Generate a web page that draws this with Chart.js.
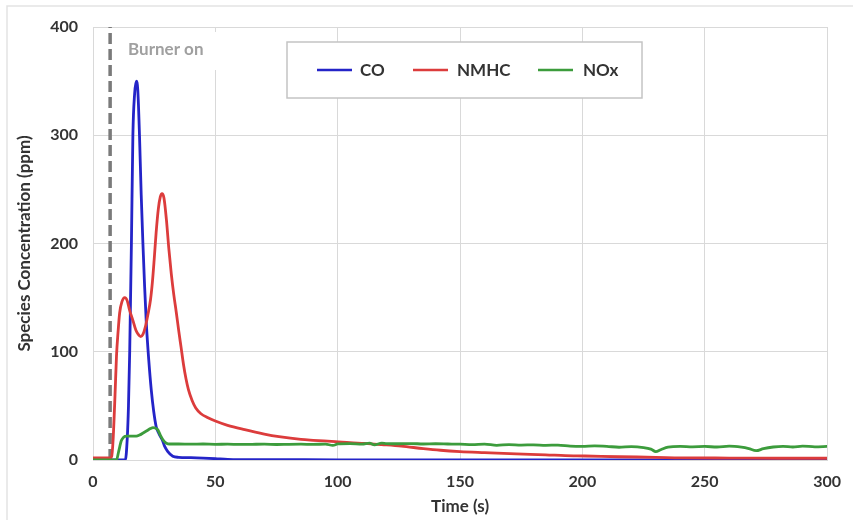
<!DOCTYPE html>
<html>
<head>
<meta charset="utf-8">
<script src="https://cdn.jsdelivr.net/npm/chart.js@4.4.1/dist/chart.umd.min.js"></script>
<style>
  html, body { margin: 0; padding: 0; background: #ffffff; }
  #wrap { width: 853px; height: 520px; }
</style>
</head>
<body>
<div id="wrap"><canvas id="speciesChart" width="853" height="520"></canvas></div>
<script>
// Emissions after burner ignition (ppm vs seconds)
const burnerOnTime = 7;

const coTime = [0, 13.2, 14, 14.5, 15, 15.7, 16.3, 17, 17.7, 18.3, 19, 19.7, 20.4, 21.1, 21.8, 22.8, 23.8, 24.8, 25.8, 27, 28.4, 29.2, 30.5, 32.6, 35, 40, 45, 50, 55, 60, 100, 150, 200, 250, 300];
const coValues = [0, 0, 20, 50, 100, 200, 300, 338, 350, 342, 300, 245, 200, 160, 126, 92, 65, 45, 31, 24, 18, 13, 8, 3.5, 2.5, 2.2, 1.8, 1.2, 0.5, 0.3, 0.2, 0.1, 0.1, 0.1, 0.1];

const nmhcTime = [0, 7, 7.6, 8.2, 9, 9.6, 10.3, 10.9, 11.8, 13, 14, 15, 16.3, 17.5, 18.5, 19.5, 20.4, 21.5, 22.5, 23.5, 24.3, 25, 25.8, 26.7, 27.5, 28.2, 29, 30, 31, 32, 33, 34, 35, 36, 37, 38, 39, 40.5, 42, 44, 47, 50, 55, 62, 70, 76, 85, 90, 99, 105, 111, 118, 126, 135, 142, 150, 160, 173, 185, 193, 201, 215, 230, 240, 260, 280, 300];
const nmhcValues = [2, 2, 3, 18, 60, 96, 120, 136, 146, 150, 147, 138, 129, 120, 116, 114, 116, 124, 135, 148, 165, 185, 210, 232, 243, 246, 242, 222, 195, 172, 153, 137, 120, 104, 88, 75, 65, 55, 48, 43, 39, 36, 32, 28, 24, 21.6, 19, 18.2, 17, 16, 15.3, 14.2, 12.8, 10.5, 9, 7.8, 6.8, 5.6, 4.8, 4, 3.7, 3, 2.5, 2, 1.8, 1.6, 1.6];

const noxTime = [0, 9.6, 10.5, 11.6, 12.5, 13.7, 15, 16, 17.7, 19, 20.5, 22, 23.5, 24.5, 25.5, 26.5, 27.5, 28.5, 29.2, 30, 31.2, 35, 40, 45, 50, 55, 60, 65, 70, 75, 80, 85, 90, 95, 98, 100, 105, 110, 113, 115, 118, 120, 125, 130, 135, 140, 145, 150, 155, 160, 165, 170, 175, 180, 185, 190, 195, 200, 205, 210, 215, 220, 225, 228, 230, 232, 235, 240, 245, 250, 255, 260, 265, 268, 271, 274, 278, 282, 286, 290, 295, 300];
const noxValues = [0, 0, 8, 18, 21, 22, 22, 22, 22, 23, 25, 27, 29, 30, 29.5, 27.8, 23, 19, 17, 15.5, 14.8, 14.8, 14.6, 14.8, 14.5, 14.6, 14.4, 14.5, 14.6, 14.3, 14.5, 14.6, 14.4, 14.7, 13.5, 14.8, 15.2, 14.6, 15.5, 14, 15.6, 15.2, 15, 15.2, 14.8, 15, 14.8, 14.6, 14.2, 14.6, 13.6, 14.2, 13.8, 14, 13.6, 13.8, 12.8, 12.5, 13, 12.6, 11.8, 12.4, 11.5, 10, 7.8, 9.5, 12, 12.6, 12.2, 12.5, 12, 12.8, 11.8, 10.5, 8.6, 10.5, 12, 12.6, 12, 12.8, 12.2, 12.5];

const xTicks = [0, 50, 100, 150, 200, 250, 300];
const yTicks = [0, 100, 200, 300, 400];

const FONT = 'Lato, "Open Sans", "Liberation Sans", sans-serif';
const TEXT = '#333333';
const GRID = '#d9d9d9';

function toPoints(times, values) {
    return times.map((t, i) => ({ x: t, y: values[i] }));
}

// Frame around the figure plus the white boxes behind the annotation and legend
const decorations = {
    id: 'decorations',
    beforeDraw(chart) {
        const ctx = chart.ctx;
        ctx.save();
        ctx.fillStyle = '#ffffff';
        ctx.fillRect(0, 0, chart.width, chart.height);
        ctx.strokeStyle = '#e3e3e3';
        ctx.lineWidth = 1.5;
        ctx.beginPath();
        ctx.moveTo(7, chart.height);
        ctx.lineTo(7, 6);
        ctx.lineTo(chart.width, 6);
        ctx.stroke();
        ctx.restore();
    },
    afterDraw(chart) {
        const ctx = chart.ctx;
        ctx.save();

        // "Burner on" label
        ctx.fillStyle = '#ffffff';
        ctx.fillRect(120, 32, 104, 38);
        ctx.font = 'bold 17px ' + FONT;
        ctx.fillStyle = '#a0a0a0';
        ctx.textBaseline = 'middle';
        ctx.textAlign = 'left';
        ctx.fillText('Burner on', 128, 50);

        // legend box
        const box = { x: 287, y: 42, w: 355, h: 56 };
        ctx.fillStyle = '#ffffff';
        ctx.fillRect(box.x, box.y, box.w, box.h);
        ctx.strokeStyle = '#c4c4c4';
        ctx.lineWidth = 1.5;
        ctx.strokeRect(box.x, box.y, box.w, box.h);

        const items = [
            { ds: 0, lineX: 317, textX: 360 },
            { ds: 1, lineX: 413, textX: 457 },
            { ds: 2, lineX: 538, textX: 583 }
        ];
        const cy = 70;
        ctx.font = 'bold 17px ' + FONT;
        items.forEach(item => {
            const ds = chart.data.datasets[item.ds];
            ctx.strokeStyle = ds.borderColor;
            ctx.lineWidth = 2.5;
            ctx.beginPath();
            ctx.moveTo(item.lineX, cy);
            ctx.lineTo(item.lineX + 35, cy);
            ctx.stroke();
            ctx.fillStyle = '#333333';
            ctx.fillText(ds.label, item.textX, cy + 1);
        });
        ctx.restore();
    }
};

const ctx = document.getElementById('speciesChart').getContext('2d');

new Chart(ctx, {
    type: 'line',
    data: {
        datasets: [
            {
                label: 'CO',
                data: toPoints(coTime, coValues),
                borderColor: '#2424c8',
                borderWidth: 2.8,
                cubicInterpolationMode: 'monotone',
                order: 2
            },
            {
                label: 'NMHC',
                data: toPoints(nmhcTime, nmhcValues),
                borderColor: '#dc3c3c',
                borderWidth: 2.8,
                cubicInterpolationMode: 'monotone',
                order: 1
            },
            {
                label: 'NOx',
                data: toPoints(noxTime, noxValues),
                borderColor: '#3c9c3c',
                borderWidth: 2.8,
                cubicInterpolationMode: 'monotone',
                order: 0
            },
            {
                // burner ignition marker
                label: 'Burner on',
                data: [{ x: burnerOnTime, y: 0 }, { x: burnerOnTime, y: 400 }],
                borderColor: '#7a7a7a',
                borderWidth: 3.5,
                borderDash: [11, 5],
                order: 3
            }
        ]
    },
    options: {
        responsive: false,
        animation: false,
        layout: { padding: { top: 27, right: 20, left: 0, bottom: 0 } },
        elements: {
            point: { radius: 0, hoverRadius: 0 },
            line: { tension: 0, fill: false }
        },
        plugins: {
            legend: { display: false },
            tooltip: { enabled: false }
        },
        scales: {
            x: {
                type: 'linear',
                min: 0,
                max: 300,
                afterBuildTicks: scale => { scale.ticks = xTicks.map(v => ({ value: v })); },
                afterFit: scale => { scale.height = 60; },
                grid: { color: GRID, lineWidth: 1, drawTicks: false },
                border: { color: GRID },
                ticks: {
                    padding: 12,
                    color: TEXT,
                    font: { family: FONT, size: 16, weight: 'bold' }
                },
                title: {
                    display: true,
                    text: 'Time (s)',
                    color: TEXT,
                    padding: { top: 4, bottom: 3 },
                    font: { family: FONT, size: 17, weight: 'bold' }
                }
            },
            y: {
                min: 0,
                max: 400,
                afterBuildTicks: scale => { scale.ticks = yTicks.map(v => ({ value: v })); },
                afterFit: scale => { scale.width = 93; },
                grid: { color: GRID, lineWidth: 1, drawTicks: false },
                border: { color: GRID },
                ticks: {
                    padding: 15,
                    color: TEXT,
                    font: { family: FONT, size: 16, weight: 'bold' }
                },
                title: {
                    display: true,
                    text: 'Species Concentration (ppm)',
                    color: TEXT,
                    padding: { top: 14, bottom: 0 },
                    font: { family: FONT, size: 17, weight: 'bold' }
                }
            }
        }
    },
    plugins: [decorations]
});
</script>
</body>
</html>
